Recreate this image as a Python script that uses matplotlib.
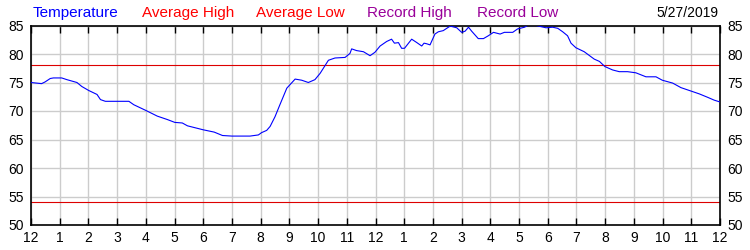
import matplotlib
matplotlib.use("Agg")
import matplotlib.pyplot as plt

plt.rcParams['font.family'] = ['Liberation Sans', 'DejaVu Sans']

# hours since midnight and temperature (F)
hours = [0.0, 0.37, 0.49, 0.67, 0.78, 1.07, 1.25, 1.60, 1.77, 2.01, 2.30, 2.42,
         2.59, 3.41, 3.58, 4.00, 4.40, 4.75, 5.01, 5.27, 5.45, 6.00, 6.38, 6.67,
         7.00, 7.63, 7.92, 8.03, 8.21, 8.33, 8.50, 8.67, 8.91, 9.20, 9.43, 9.66,
         9.89, 10.07, 10.36, 10.59, 10.94, 11.11, 11.17, 11.34, 11.58, 11.81,
         11.98, 12.16, 12.39, 12.56, 12.66, 12.80, 12.91, 13.01, 13.26, 13.44,
         13.61, 13.69, 13.78, 13.90, 14.07, 14.19, 14.36, 14.60, 14.83, 15.00,
         15.12, 15.24, 15.35, 15.58, 15.76, 15.93, 16.11, 16.34, 16.49, 16.78,
         16.95, 17.19, 17.30, 17.59, 17.94, 18.17, 18.35, 18.52, 18.69, 18.81,
         18.98, 19.27, 19.62, 19.80, 19.99, 20.26, 20.49, 20.78, 21.07, 21.42,
         21.77, 21.99, 22.35, 22.64, 22.99, 23.28, 23.57, 23.80, 23.99]
temps = [75.0, 74.8, 75.1, 75.7, 75.8, 75.8, 75.5, 75.0, 74.3, 73.6, 72.9, 72.0,
         71.7, 71.7, 71.1, 70.1, 69.1, 68.5, 68.0, 67.9, 67.4, 66.7, 66.3, 65.7,
         65.6, 65.6, 65.8, 66.2, 66.6, 67.3, 69.0, 71.1, 74.0, 75.6, 75.4, 75.0,
         75.5, 76.6, 78.9, 79.3, 79.4, 80.1, 80.9, 80.6, 80.4, 79.7,
         80.3, 81.4, 82.2, 82.6, 81.9, 82.0, 81.0, 81.0, 82.6, 82.0,
         81.4, 81.9, 81.8, 81.6, 83.5, 83.9, 84.1, 84.9, 84.6, 83.8,
         84.0, 84.7, 84.0, 82.7, 82.7, 83.2, 83.8, 83.5, 83.8, 83.8,
         84.4, 84.7, 85.0, 85.0, 84.6, 84.7, 84.5, 83.9, 83.2, 81.9,
         81.1, 80.4, 79.1, 78.7, 77.8, 77.2, 76.9, 76.9, 76.7, 76.0,
         76.0, 75.4, 74.9, 74.1, 73.5, 73.0, 72.4, 71.9, 71.6]

avg_high = 78
avg_low = 54
date_label = "5/27/2019"

x_ticks = list(range(0, 25))
x_labels = ["12"] + [str(h) for h in range(1, 12)] + ["12"] + [str(h) for h in range(1, 12)] + ["12"]
y_ticks = list(range(50, 90, 5))

legend_items = [("Temperature", "#0000FF", 0.044),
                ("Average High", "#FF0000", 0.190),
                ("Average Low", "#FF0000", 0.342),
                ("Record High", "#990099", 0.489),
                ("Record Low", "#990099", 0.636)]

fig = plt.figure(figsize=(7.5, 2.5), dpi=100)
ax = fig.add_axes([31 / 750, 0.1, 689 / 750, 0.798])

ax.plot(hours, temps, color="#0000FF", linewidth=0.8, zorder=3)
ax.axhline(avg_high, color="#DD0000", linewidth=0.8, zorder=2)
ax.axhline(avg_low, color="#DD0000", linewidth=0.8, zorder=2)

ax.set_xlim(0, 24)
ax.set_ylim(50, 85)
ax.set_xticks(x_ticks)
ax.set_xticklabels(x_labels, fontsize=10)
ax.set_yticks(y_ticks)
ax.set_yticklabels([str(v) for v in y_ticks], fontsize=10)
ax.tick_params(axis='x', direction='in', length=5, width=1, color='black',
               top=True, bottom=True, pad=4)
ax.tick_params(axis='y', length=0, pad=5, left=True, right=True,
               labelleft=True, labelright=True)
ax.grid(True, color='#CCCCCC', linewidth=1.0)
ax.set_axisbelow(True)
for s in ax.spines.values():
    s.set_color('black')
    s.set_linewidth(1.2)

for text, color, xpos in legend_items:
    fig.text(xpos, 0.948, text, color=color, fontsize=11, ha='left', va='center')
fig.text(0.958, 0.948, date_label, color='black', fontsize=10, ha='right', va='center')

fig.savefig("out.png", dpi=100)
